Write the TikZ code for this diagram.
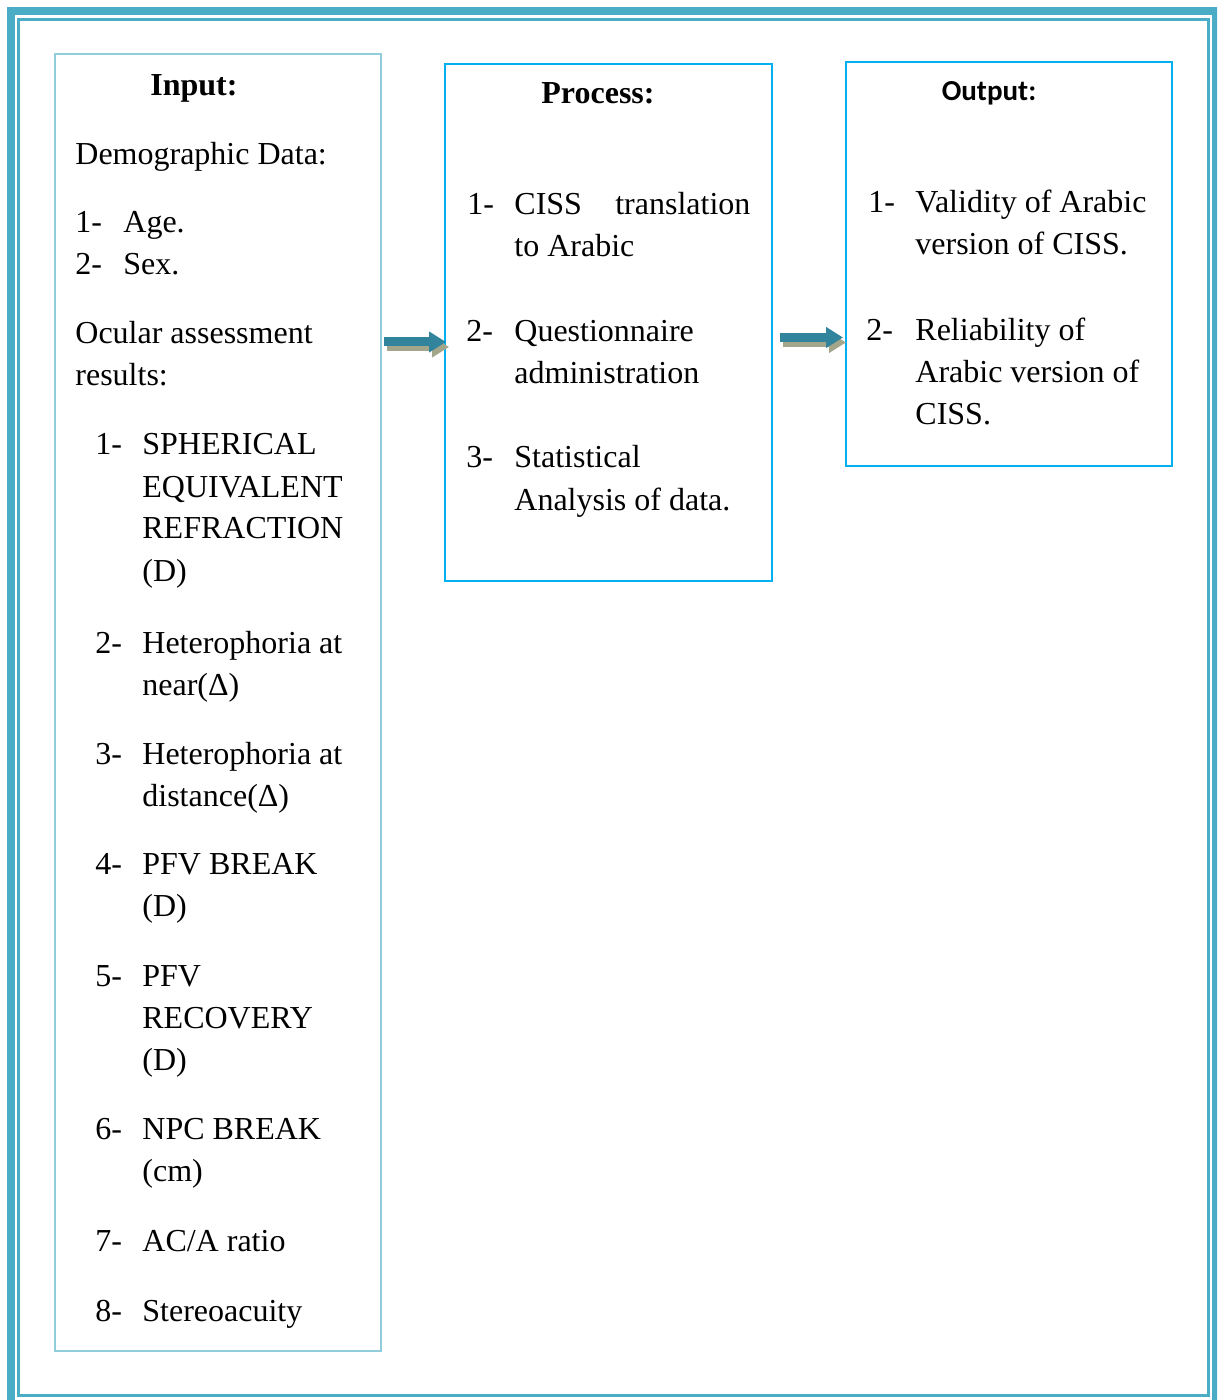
\documentclass[tikz,border=0pt]{standalone}
\usepackage{fontspec}
\setmainfont{Liberation Serif}
\newfontfamily\calibri{Carlito}
\usetikzlibrary{arrows.meta}

\definecolor{frameblue}{HTML}{4BACC6}
\definecolor{inputblue}{HTML}{92CDDC}
\definecolor{boxblue}{HTML}{00B0F0}
\definecolor{arrowteal}{HTML}{31849B}
\definecolor{arrowshade}{HTML}{A3A68A}

% lines of one item, baseline on the first line
\newcommand{\lines}[1]{\begin{tabular}[t]{@{}l@{}}#1\end{tabular}}

\tikzset{
  txt/.style={anchor=base west, inner sep=0pt, font=\fontsize{16}{21}\selectfont},
  head/.style={anchor=base, inner sep=0pt, font=\fontsize{16}{21}\selectfont\bfseries},
  inputbox/.style={draw=inputblue, line width=1pt, inner sep=0pt},
  stagebox/.style={draw=boxblue, line width=1pt, inner sep=0pt},
  blockarrow/.style={line width=4.5pt, -{Triangle[length=8.5pt,width=10pt]}},
}

\begin{document}
\begin{tikzpicture}[x=0.5pt,y=-0.5pt]
  \path[use as bounding box, clip] (0,0) rectangle (1217,1400);

  % page frame
  \draw[frameblue, line width=4pt] (11,11.5) rectangle (1216,1405);
  \draw[frameblue, line width=1.25pt] (18.5,19.5) rectangle (1208.5,1395.5);

  % the three boxes
  \node[inputbox, minimum width=163pt, minimum height=648.5pt] (input) at (218,702.5) {};
  \node[stagebox, minimum width=163.5pt, minimum height=258.5pt] (process) at (608.5,322.5) {};
  \node[stagebox, minimum width=163pt, minimum height=202pt] (output) at (1009,264) {};

  % arrows
  \draw[blockarrow, arrowshade, transform canvas={xshift=1.5pt,yshift=-2.5pt}, shorten <=1pt, shorten >=-1pt]
    (input.east |- 0,342) -- (process.west |- 0,342);
  \draw[blockarrow, arrowteal, shorten <=1pt, shorten >=-1pt]
    (input.east |- 0,342) -- (process.west |- 0,342);
  \draw[blockarrow, arrowshade, transform canvas={xshift=1.5pt,yshift=-2.5pt}, shorten <=3.5pt, shorten >=1pt]
    (process.east |- 0,337.5) -- (output.west |- 0,337.5);
  \draw[blockarrow, arrowteal, shorten <=3.5pt, shorten >=1pt]
    (process.east |- 0,337.5) -- (output.west |- 0,337.5);

  % input
  \node[head] (inhead) at (194,96) {Input:};
  \node[txt] (demo) at (75,165) {Demographic Data:};
  \node[txt] (agenum) at (75,233) {1-};
  \node[txt] (age) at (123,233) {Age.};
  \node[txt] (sexnum) at (75,275) {2-};
  \node[txt] (sex) at (123,275) {Sex.};
  \node[txt] (ocular) at (75,344) {\lines{Ocular assessment\\results:}};
  \foreach \y/\t [count=\i] in {455/{SPHERICAL\\EQUIVALENT\\REFRACTION\\(D)},
      653/{Heterophoria at\\near(Δ)}, 764/{Heterophoria at\\distance(Δ)},
      874/{PFV BREAK\\(D)}, 986/{PFV\\RECOVERY\\(D)}, 1139/{NPC BREAK\\(cm)},
      1251/{AC/A ratio}, 1321/{Stereoacuity}}{
    \node[txt] (inum\i) at (95,\y) {\i-};
    \node[txt] (item\i) at (142,\y) {\lines{\t}};
  }

  % process
  \node[head] (prochead) at (598,104) {Process:};
  \node[txt] (pnum1) at (467,215) {1-};
  \node[txt] (proc1) at (514,215) {\lines{\makebox[118pt][s]{CISS translation}\\to Arabic}};
  \node[txt] (pnum2) at (466,342) {2-};
  \node[txt] (proc2) at (514,342) {\lines{Questionnaire\\administration}};
  \node[txt] (pnum3) at (466,468) {3-};
  \node[txt] (proc3) at (514,468) {\lines{Statistical\\Analysis of data.}};

  % output
  \node[head, font=\fontsize{14.5}{21}\selectfont\calibri\bfseries] (outhead) at (989,101) {Output:};
  \node[txt] (onum1) at (868,213) {1-};
  \node[txt] (out1) at (915,213) {\lines{Validity of Arabic\\version of CISS.}};
  \node[txt] (onum2) at (866,341) {2-};
  \node[txt] (out2) at (915,341) {\lines{Reliability of\\Arabic version of\\CISS.}};
\end{tikzpicture}
\end{document}
